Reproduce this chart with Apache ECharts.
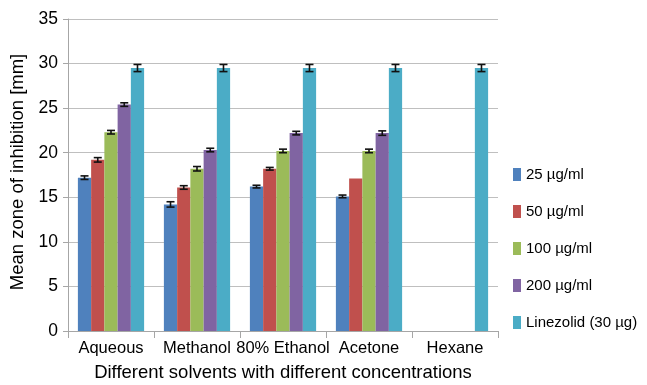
<!DOCTYPE html>
<html>
<head>
<meta charset="utf-8">
<script src="https://cdn.jsdelivr.net/npm/echarts@6/dist/echarts.min.js"></script>
<style>
  html, body { margin: 0; padding: 0; background: #fff; }
  #chart { width: 647px; height: 385px; }
</style>
</head>
<body>
<div id="chart"></div>
<script>
// Solvents on the x axis
const solvents = ['Aqueous', 'Methanol', '80% Ethanol', 'Acetone', 'Hexane'];

// Mean zone of inhibition (mm) per concentration; Hexane extract gave no zone
const conc25 = [17.2, 14.2, 16.2, 15.1, null];
const conc50 = [19.2, 16.1, 18.2, 17.1, null];
const conc100 = [22.3, 18.2, 20.2, 20.2, null];
const conc200 = [25.4, 20.3, 22.2, 22.2, null];
const linezolid = [29.5, 29.5, 29.5, 29.5, 29.5];

// Standard errors drawn as whiskers
const err25 = [0.2, 0.3, 0.15, 0.15, null];
const err50 = [0.25, 0.2, 0.15, 0, null];
const err100 = [0.2, 0.25, 0.2, 0.2, null];
const err200 = [0.2, 0.2, 0.2, 0.25, null];
const errLinezolid = [0.4, 0.4, 0.4, 0.4, 0.4];

const seriesNames = ['25 µg/ml', '50 µg/ml', '100 µg/ml', '200 µg/ml', 'Linezolid (30 µg)'];
const colors = ['#4F81BD', '#C0504D', '#9BBB59', '#8064A2', '#4BACC6'];
const values = [conc25, conc50, conc100, conc200, linezolid];
const errors = [err25, err50, err100, err200, errLinezolid];

const xTitle = 'Different solvents with different concentrations';
const yTitle = 'Mean zone of inhibition [mm]';

const yTicks = { min: 0, max: 35, interval: 5 };
const categoryGap = 0.23;
const font = 'Liberation Sans, Arial, sans-serif';

const chart = echarts.init(document.getElementById('chart'), null, { renderer: 'canvas' });

const barSeries = values.map((vals, i) => ({
  name: seriesNames[i],
  type: 'bar',
  data: vals,
  barGap: '0%',
  barCategoryGap: (categoryGap * 100) + '%',
  itemStyle: { color: colors[i] },
  z: 2
}));

// Whiskers placed on the centre of each bar in the group
const errorSeries = values.map((vals, i) => ({
  type: 'custom',
  name: seriesNames[i] + ' error',
  data: vals.map((v, k) => [k, v, errors[i][k]]),
  z: 5,
  silent: true,
  renderItem: function (params, api) {
    const v = api.value(1);
    const e = api.value(2);
    if (v == null || isNaN(v) || !e) return null;
    const band = api.size([1, 0])[0];
    const bw = band * (1 - categoryGap) / values.length;
    const off = (i - (values.length - 1) / 2) * bw;
    const top = api.coord([api.value(0), v + e]);
    const bot = api.coord([api.value(0), v - e]);
    const x = top[0] + off;
    const cap = 4;
    const style = { stroke: '#111', lineWidth: 1.6 };
    return {
      type: 'group',
      children: [
        { type: 'line', shape: { x1: x, y1: top[1], x2: x, y2: bot[1] }, style: style },
        { type: 'line', shape: { x1: x - cap, y1: top[1], x2: x + cap, y2: top[1] }, style: style },
        { type: 'line', shape: { x1: x - cap, y1: bot[1], x2: x + cap, y2: bot[1] }, style: style }
      ]
    };
  }
}));

chart.setOption({
  animation: false,
  backgroundColor: '#ffffff',
  textStyle: { fontFamily: font, color: '#000' },
  grid: { left: 68, right: 149, top: 19, bottom: 54, containLabel: false, outerBoundsMode: 'none' },
  legend: {
    orient: 'vertical',
    left: 508,
    top: 162,
    itemWidth: 8,
    itemHeight: 13,
    itemGap: 22,
    icon: 'rect',
    data: seriesNames,
    textStyle: { fontSize: 15, color: '#000', fontFamily: font }
  },
  // Axis titles
  graphic: [
    {
      type: 'text',
      x: 283, y: 373,
      style: { text: xTitle, font: '18.5px ' + font, fill: '#000', align: 'center', verticalAlign: 'middle' }
    },
    {
      type: 'text',
      x: 18, y: 172,
      rotation: Math.PI / 2,
      style: { text: yTitle, font: '18.5px ' + font, fill: '#000', align: 'center', verticalAlign: 'middle' }
    }
  ],
  xAxis: {
    type: 'category',
    data: solvents,
    axisLine: { lineStyle: { color: '#a6a6a6', width: 1 } },
    axisTick: { show: true, alignWithLabel: false, length: 7, lineStyle: { color: '#a6a6a6' } },
    axisLabel: { fontSize: 16.5, color: '#000', margin: 9, interval: 0, fontFamily: font }
  },
  yAxis: {
    type: 'value',
    min: yTicks.min,
    max: yTicks.max,
    interval: yTicks.interval,
    axisLine: { show: true, lineStyle: { color: '#a6a6a6', width: 1 } },
    axisTick: { show: true, length: 5, lineStyle: { color: '#a6a6a6' } },
    axisLabel: { fontSize: 17.5, color: '#000', margin: 10, fontFamily: font },
    splitLine: { show: true, lineStyle: { color: '#bfbfbf', width: 1 } }
  },
  series: barSeries.concat(errorSeries)
});
</script>
</body>
</html>
